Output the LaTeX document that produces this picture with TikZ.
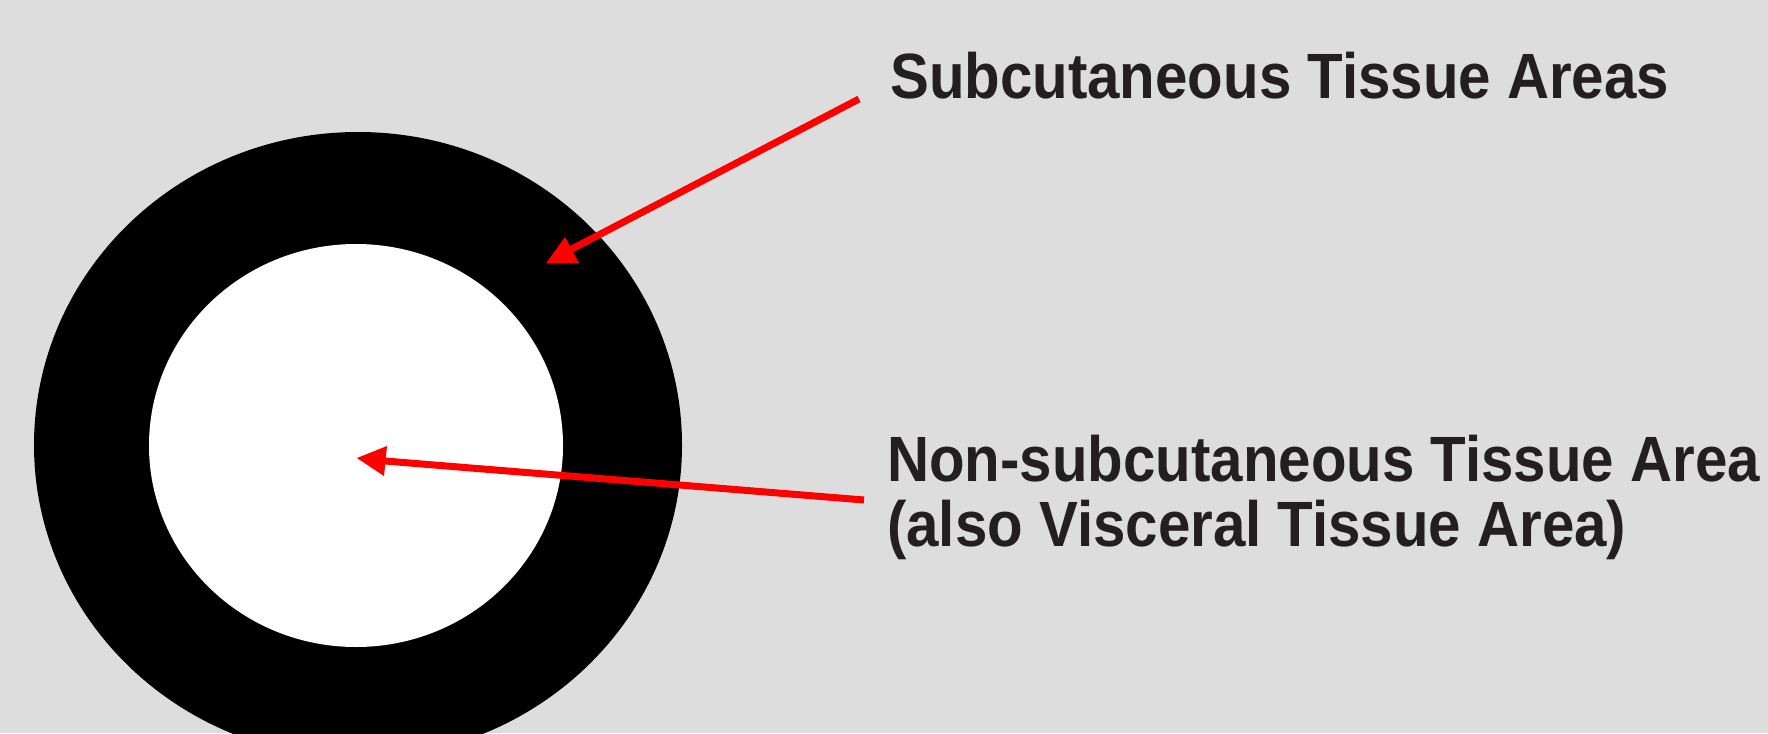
\documentclass[tikz,border=0pt]{standalone}
\usepackage{fontspec}
\setmainfont{Liberation Sans}[FakeStretch=0.91]
\definecolor{bg}{HTML}{DDDDDD}
\definecolor{ink}{HTML}{231F20}
\definecolor{arr}{HTML}{FF0000}
\begin{document}
\begin{tikzpicture}[x=1pt,y=-1pt,
  lbl/.style={anchor=base west,inner sep=0pt,text=ink,font=\fontsize{64}{65}\selectfont\bfseries},
  redline/.style={draw=arr,line width=7pt,line cap=butt},
  redhead/.style={fill=arr,draw=none}]
\fill[bg] (0,0) rectangle (1768,733);
\useasboundingbox (0,0) rectangle (1768,733);
\begin{scope}
\clip (0,0) rectangle (1768,733);
\fill[black] (358,445) ellipse[x radius=324,y radius=313];
\fill[white] (356,445.5) ellipse[x radius=207,y radius=201.5];
\end{scope}
% labels
\node[lbl] (sub) at (890,99) {Subcutaneous Tissue Areas};
\node[lbl] (non1) at (887,481) {Non-subcutaneous Tissue Area};
\node[lbl] (non2) at (887,546) {(also Visceral Tissue Area)};
% arrow 1
\coordinate (s1) at (859,99);
\coordinate (e1) at (568,251);
\draw[redline] (s1) -- (e1);
\fill[redhead] (546,263.5) -- (565,237) -- (579,263) -- cycle;
% arrow 2
\coordinate (s2) at (864,500);
\coordinate (e2) at (385,461);
\draw[redline] (s2) -- (e2);
\fill[redhead] (357,458) -- (387,446) -- (384,476) -- cycle;
\end{tikzpicture}
\end{document}
